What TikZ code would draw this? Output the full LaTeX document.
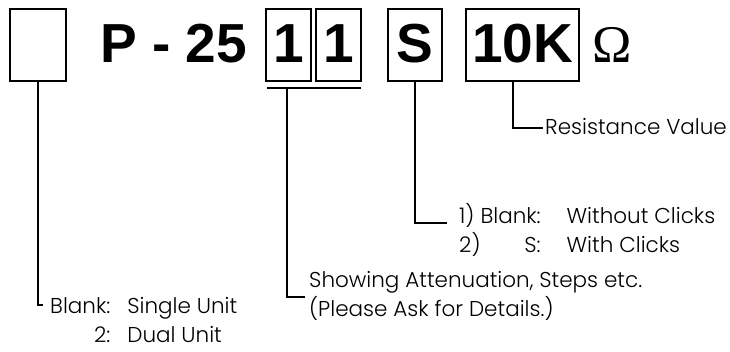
\documentclass[tikz,border=0pt]{standalone}
\usepackage{fontspec}
\setmainfont{Poppins}[UprightFont={* Light}]
\newfontfamily\codefont{Liberation Sans}
\newfontfamily\ohmfont{Liberation Serif}
\begin{document}
\begin{tikzpicture}[x=1pt,y=-1pt,
  codebox/.style={draw,line width=1.2pt,inner sep=0pt,minimum height=72pt,
    text height=46pt,text depth=10pt,font=\codefont\bfseries\fontsize{55}{60}\selectfont},
  codetext/.style={inner sep=0pt,font=\codefont\bfseries\fontsize{55}{60}\selectfont},
  note/.style={inner sep=0pt,align=left,font=\fontsize{21.5}{29}\selectfont},
  lead/.style={line width=1.4pt}]
\useasboundingbox (0,0) rectangle (730,352);

% part number
\node[codebox,minimum width=56pt] (blank) at (38,45) {};
\node[codetext,anchor=base west] (series) at (100,63) {P - 25};
\node[codebox,minimum width=45pt] (digitA) at (288.5,45) {1};
\node[codebox,minimum width=45pt] (digitB) at (338.5,45) {1};
\node[codebox,minimum width=54pt] (click) at (415,45) {S};
\node[codebox,minimum width=113pt] (value) at (522.5,45) {10K};
\node[inner sep=0pt,anchor=base west,font=\ohmfont\fontsize{53}{60}\selectfont] (ohm) at (592,63) {Ω};

% explanations
\node[note,anchor=west] (resist) at (545,127) {Resistance Value};
\node[note,anchor=west] (clicks) at (459,232)
  {\begin{tabular}{@{}l@{}r@{\hspace{26pt}}l@{}}
   1)&Blank:&Without Clicks\\
   2)&S:&With Clicks
   \end{tabular}};
\node[note,anchor=west] (atten) at (309,296)
  {Showing Attenuation, Steps etc.\\(Please Ask for Details.)};
\node[note,anchor=west] (units) at (50,322)
  {\begin{tabular}{@{}r@{\hspace{17pt}}l@{}}
   Blank:&Single Unit\\
   2:&Dual Unit
   \end{tabular}};

\coordinate (ulL) at (267,88);
\coordinate (ulR) at (361,88);
\coordinate (ulM) at (287,88);
\coordinate (unitTick) at (43,305);
\coordinate (clickTick) at (447,223);
\coordinate (attenTick) at (305,297);
\coordinate (resistTick) at (543,128);

% leaders
\draw[lead] (ulL) -- (ulR);
\draw[lead] (ulM) |- (attenTick);
\draw[lead] (blank.south) |- (unitTick);
\draw[lead] (click.south) |- (clickTick);
\draw[lead] (value.south -| 513,0) |- (resistTick);
\end{tikzpicture}
\end{document}
